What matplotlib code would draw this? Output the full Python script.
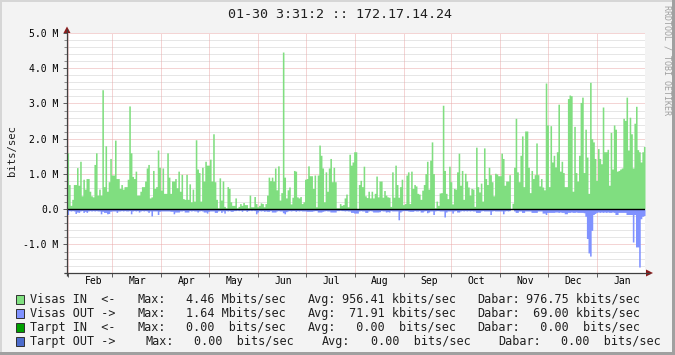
import numpy as np
import matplotlib
matplotlib.use('Agg')
import matplotlib.pyplot as plt
import matplotlib.dates as mdates
from matplotlib.patches import Rectangle, Polygon
from datetime import datetime, timedelta

# daily traffic, Mbit/s (one value per day, Feb .. Jan)
visas_in = [
    1.6, 0.7, 0.11, 0.28, 0.7, 0.7, 1.18, 0.68, 1.36, 0.38, 0.85, 0.57, 0.87, 0.87, 0.51, 0.38,
    0.35, 1.27, 1.6, 0.4, 0.57, 0.4, 3.39, 0.64, 1.8, 0.51, 0.78, 1.44, 0.97, 0.97, 1.96,
    0.87, 0.87, 0.59, 0.7, 0.57, 0.64, 0.64, 0.85, 2.93, 1.6, 0.93, 0.87, 1.08, 0.4, 0.4, 0.51,
    0.64, 0.64, 0.8, 1.17, 1.27, 0.32, 0.35, 1.1, 0.59, 0.64, 1.68, 1.19, 0.54,
    1.17, 0.45, 0.45, 1.6, 0.91, 0.45, 0.8, 0.8, 0.87, 0.61, 1.08, 0.51, 0.99, 0.3, 0.28, 0.99,
    0.28, 0.72, 0.21, 0.57, 0.23, 1.97, 1.14, 1.04, 0.23, 1.19, 0.8, 1.36, 1.25, 1.25, 1.42, 0.8,
    2.14, 0.78, 0.28, 0.04, 0.89, 0.26, 0.8, 0.08, 0.04, 0.64, 0.59, 0.21, 0.11, 0.11, 0.32, 0.04,
    0.08, 0.16, 0.11, 0.19, 0.13, 0.13, 0.04, 0.4, 0.07, 0.07, 0.36, 0.16, 0.07,
    0.11, 0.18, 0.16, 0.07, 0.16, 0.4, 0.91, 0.81, 0.91, 0.8, 1.17, 0.55, 1.23, 0.26, 0.47, 4.46,
    0.91, 0.32, 0.55, 0.63, 0.15, 0.34, 1.1, 1.08, 0.35, 0.32, 0.36, 0.16, 0.21, 0.85, 0.87, 1.23,
    0.95, 0.95, 0.59, 0.97, 0.07, 0.97, 1.82, 1.53, 1.17, 0.21, 1.06, 0.51, 1.17, 1.44, 0.78, 1.19,
    0.78, 0.04, 0.04, 0.16, 0.11, 0.13, 0.32, 0.43, 0.07, 1.56, 1.25, 1.34,
    1.63, 1.63, 0.02, 0.7, 0.82, 0.64, 1.22, 0.38, 0.33, 0.51, 0.32, 0.51, 0.32, 0.45, 0.94, 0.35,
    0.8, 0.8, 0.34, 0.53, 0.4, 0.35, 0.34, 0.08, 1.06, 0.34, 1.25, 0.7, 0.34, 0.64, 0.85, 0.13,
    0.16, 0.97, 1.06, 0.16, 1.08, 0.59, 0.7, 0.66, 0.45, 0.43, 0.28, 0.54, 0.7, 1.01, 1.36, 0.57,
    1.39, 1.91, 1.01, 0.04, 0.23, 0.11, 0.46, 0.47, 2.95, 1.1, 0.45, 0.3, 1.22,
    0.78, 0.15, 0.59, 0.57, 1.06, 1.59, 0.68, 1.1, 0.28, 1.02, 0.8, 0.63, 0.4, 0.59, 0.57, 0.08,
    1.76, 0.64, 0.49, 0.74, 0.23, 1.74, 0.87, 0.7, 1.19, 0.98, 0.78, 0.38, 1.02, 1.0, 0.95, 0.95,
    1.59, 1.44, 0.68, 0.8, 0.8, 0.98, 0.0, 0.17, 1.19, 2.58, 1.06, 0.78, 1.53, 2.08, 0.64, 2.22,
    2.22, 1.19, 0.47, 1.1, 0.87, 0.98, 1.88, 0.98, 0.66, 0.87, 0.63, 0.55,
    3.58, 2.39, 0.64, 2.37, 1.34, 1.53, 1.2, 1.63, 2.98, 1.08, 1.36, 1.04, 0.64, 0.64, 3.14, 3.24,
    3.22, 0.51, 2.35, 1.04, 0.8, 1.53, 3.03, 3.18, 1.04, 2.27, 1.48, 0.45, 3.6, 2.0, 1.91, 1.44,
    0.82, 1.72, 1.44, 1.29, 2.9, 1.63, 1.63, 1.7, 0.68, 2.18, 1.14, 2.39, 2.27, 1.08, 1.1, 1.14,
    1.17, 2.58, 2.52, 3.18, 1.68, 2.61, 2.14, 1.17, 2.44, 2.92, 1.69, 1.63, 1.34, 1.63, 1.78,
]
visas_out = [
    0.15, 0.04, 0.05, 0.04, 0.05, 0.12, 0.08, 0.09, 0.05, 0.04, 0.09, 0.06, 0.09, 0.05, 0.04,
    0.05, 0.04, 0.05, 0.04, 0.05, 0.05, 0.13, 0.06, 0.09, 0.09, 0.13, 0.12, 0.06, 0.05, 0.05, 0.05,
    0.09, 0.05, 0.05, 0.04, 0.05, 0.04, 0.05, 0.05, 0.04, 0.13, 0.05, 0.04, 0.05, 0.04, 0.08, 0.05,
    0.04, 0.05, 0.04, 0.05, 0.09, 0.05, 0.19, 0.05, 0.05, 0.05, 0.15, 0.06, 0.05,
    0.05, 0.05, 0.05, 0.05, 0.05, 0.06, 0.06, 0.13, 0.08, 0.08, 0.08, 0.05, 0.05, 0.04, 0.08, 0.08,
    0.08, 0.04, 0.05, 0.04, 0.05, 0.05, 0.08, 0.05, 0.04, 0.05, 0.08, 0.08, 0.11, 0.06, 0.05, 0.05,
    0.05, 0.09, 0.09, 0.05, 0.04, 0.09, 0.05, 0.11, 0.04, 0.05, 0.04, 0.06, 0.06, 0.04, 0.04, 0.03,
    0.04, 0.03, 0.06, 0.03, 0.03, 0.06, 0.04, 0.03, 0.04, 0.03, 0.04, 0.13, 0.08,
    0.04, 0.05, 0.04, 0.06, 0.05, 0.06, 0.06, 0.04, 0.08, 0.08, 0.08, 0.05, 0.04, 0.05, 0.05, 0.10,
    0.13, 0.07, 0.05, 0.04, 0.05, 0.04, 0.04, 0.06, 0.04, 0.05, 0.04, 0.05, 0.05, 0.05, 0.06, 0.06,
    0.06, 0.06, 0.05, 0.04, 0.04, 0.08, 0.08, 0.08, 0.06, 0.05, 0.04, 0.05, 0.05, 0.08, 0.08, 0.08,
    0.08, 0.04, 0.04, 0.03, 0.04, 0.04, 0.05, 0.04, 0.05, 0.05, 0.09, 0.09,
    0.11, 0.11, 0.11, 0.05, 0.04, 0.05, 0.05, 0.09, 0.09, 0.05, 0.04, 0.05, 0.08, 0.08, 0.08, 0.08,
    0.07, 0.04, 0.05, 0.05, 0.08, 0.07, 0.08, 0.04, 0.05, 0.05, 0.05, 0.05, 0.30, 0.08, 0.05, 0.04,
    0.04, 0.04, 0.05, 0.06, 0.06, 0.06, 0.04, 0.05, 0.05, 0.04, 0.08, 0.08, 0.05, 0.04, 0.10, 0.08,
    0.05, 0.05, 0.15, 0.05, 0.04, 0.04, 0.05, 0.05, 0.05, 0.22, 0.08, 0.05, 0.05,
    0.05, 0.11, 0.05, 0.04, 0.08, 0.08, 0.05, 0.04, 0.05, 0.04, 0.05, 0.04, 0.05, 0.04, 0.05, 0.05,
    0.09, 0.09, 0.09, 0.05, 0.04, 0.05, 0.05, 0.05, 0.05, 0.15, 0.05, 0.04, 0.05, 0.05, 0.05, 0.05,
    0.05, 0.13, 0.05, 0.04, 0.05, 0.04, 0.0, 0.0, 0.05, 0.09, 0.09, 0.05, 0.05, 0.09, 0.09, 0.05,
    0.05, 0.05, 0.05, 0.09, 0.09, 0.09, 0.09, 0.05, 0.05, 0.05, 0.11, 0.11,
    0.15, 0.09, 0.09, 0.09, 0.09, 0.09, 0.08, 0.08, 0.09, 0.08, 0.09, 0.09, 0.13, 0.13, 0.09, 0.09,
    0.08, 0.09, 0.09, 0.08, 0.09, 0.09, 0.09, 0.09, 0.10, 0.20, 0.83, 1.24, 1.33, 0.60, 0.15, 0.12,
    0.09, 0.08, 0.09, 0.08, 0.09, 0.08, 0.09, 0.08, 0.09, 0.09, 0.08, 0.09, 0.15, 0.15,
    0.09, 0.09, 0.09, 0.09, 0.09, 0.15, 0.15, 0.15, 0.15, 0.93, 0.15, 1.07, 1.07, 1.64, 0.27, 0.20,
    0.18,
]
month_labels = ['Feb', 'Mar', 'Apr', 'May', 'Jun', 'Jul', 'Aug', 'Sep', 'Oct', 'Nov', 'Dec', 'Jan']
y_ticks = [-1, 0, 1, 2, 3, 4, 5]
y_labels = ['-1.0 M', '0.0', '1.0 M', '2.0 M', '3.0 M', '4.0 M', '5.0 M']

legend_rows = [
    ('Visas IN  <-', '#80e080', [('Max:', 138), ('4.46 Mbits/sec', 186), ('Avg:', 308),
                                ('956.41 kbits/sec', 342), ('Dabar:', 477), ('976.75 kbits/sec', 526)]),
    ('Visas OUT ->', '#8092ff', [('Max:', 138), ('1.64 Mbits/sec', 186), ('Avg:', 308),
                                (' 71.91 kbits/sec', 342), ('Dabar:', 477), (' 69.00 kbits/sec', 526)]),
    ('Tarpt IN  <-', '#00a000', [('Max:', 138), ('0.00  bits/sec', 186), ('Avg:', 308),
                                ('  0.00  bits/sec', 342), ('Dabar:', 477), ('  0.00  bits/sec', 526)]),
    ('Tarpt OUT ->', '#4c6ccc', [('Max:', 145), ('0.00  bits/sec', 194), ('Avg:', 322),
                                ('0.00  bits/sec', 371), ('Dabar:', 498), ('0.00  bits/sec', 561)]),
]

MONO = 'DejaVu Sans Mono'
W, H = 675, 355
L, R, T, B = 67, 645, 33, 273
plt.rcParams['lines.scale_dashes'] = False

fig = plt.figure(figsize=(W / 100, H / 100), dpi=100, facecolor='#f3f3f3')
ax = fig.add_axes([L / W, 1 - B / H, (R - L) / W, (B - T) / H])
ax.set_facecolor('white')

start = datetime(2013, 1, 31, 9, 0)
t0 = mdates.date2num(start)
span = 365.0


def day_edges(vals):
    return t0 + np.arange(len(vals) + 1)


vin = np.array(visas_in)
vout = np.array(visas_out)
ax.fill_between(day_edges(vin), np.append(vin, vin[-1]), step='post',
                color='#80de80', lw=0, zorder=2)
ax.fill_between(day_edges(vout), -np.append(vout, vout[-1]), step='post',
                color='#8092ff', lw=0, zorder=2)
ax.axhline(0, color='black', lw=1.0, zorder=5)

ax.set_xlim(t0, t0 + span)
ax.set_ylim(-1.81, 5.0)

# dotted grid like rrdtool: 1px on, 1px off
grid_kw = dict(lw=0.72, dashes=(0.72, 0.72), zorder=1)
for v in np.arange(-1.8, 5.01, 0.2):
    if abs(v - round(v)) < 1e-6:
        continue
    ax.axhline(v, color='#cfcfcf', **grid_kw)
for v in y_ticks:
    ax.axhline(v, color='#eaaaaa', **grid_kw)
month_starts = [datetime(2013, m, 1) for m in range(2, 13)] + [datetime(2014, 1, 1)]
for d in month_starts:
    ax.axvline(mdates.date2num(d), color='#eaaaaa', **grid_kw)

for s in ax.spines.values():
    s.set_visible(False)

ax.set_yticks(y_ticks)
ax.set_yticklabels(y_labels, fontfamily=MONO, fontsize=7)
ax.set_yticks(np.arange(-1.8, 5.01, 0.2), minor=True)
ax.tick_params(axis='y', which='major', length=3, width=0.72, color='#606060', pad=3)
ax.tick_params(axis='y', which='minor', length=2, width=0.72, color='#909090')

ax.set_xticks([mdates.date2num(d) for d in month_starts])
ax.set_xticklabels([])
ax.set_xticks([mdates.date2num(d + timedelta(days=16)) for d in month_starts], minor=True)
ax.set_xticklabels(month_labels, minor=True, fontfamily=MONO, fontsize=7)
ax.tick_params(axis='x', which='major', length=3, width=0.72, color='#606060')
ax.tick_params(axis='x', which='minor', length=0, pad=2.5)

# overlay in pixel coordinates for frame, axes arrows, texts and legend
ov = fig.add_axes([0, 0, 1, 1], zorder=10)
ov.set_xlim(0, W)
ov.set_ylim(H, 0)
ov.axis('off')
ov.patch.set_alpha(0)

ov.add_patch(Rectangle((0, 0), W, 2, color='#d6d6d6', lw=0))
ov.add_patch(Rectangle((0, 0), 2, H, color='#d6d6d6', lw=0))
ov.add_patch(Rectangle((W - 3, 0), 3, H, color='#a0a0a0', lw=0))
ov.add_patch(Rectangle((0, H - 3), W, 3, color='#a0a0a0', lw=0))

ov.plot([L, L], [B + 3, T - 4], color='#404040', lw=0.9, solid_capstyle='butt')
ov.plot([L - 3, R + 5], [B, B], color='#404040', lw=0.9, solid_capstyle='butt')
ov.add_patch(Polygon([(L - 3.5, T), (L + 3.5, T), (L, T - 6.5)], closed=True,
                     color='#8c1c1c', lw=0))
ov.add_patch(Polygon([(R + 1, B - 3.5), (R + 1, B + 3.5), (R + 8, B)], closed=True,
                     color='#8c1c1c', lw=0))

ov.text(340, 14, '01-30 3:31:2 :: 172.17.14.24', fontfamily=MONO, fontsize=9.6,
        ha='center', va='center', color='#202020')
ov.text(12, (T + B) / 2 - 2, 'bits/sec', fontfamily=MONO, fontsize=7.6,
        rotation=90, ha='center', va='center', color='#202020')
ov.text(667, 5, 'RRDTOOL / TOBI OETIKER', fontfamily=MONO, fontsize=6,
        rotation=270, ha='center', va='top', color='#a0a0a0')

row_y = [299.5, 313.5, 327.5, 341.5]
for (name, col, parts), y in zip(legend_rows, row_y):
    ov.add_patch(Rectangle((15.5, y - 4.5), 8.5, 9, facecolor=col,
                           edgecolor='#303030', lw=0.7))
    ov.text(30, y, name, fontfamily=MONO, fontsize=8.5, ha='left', va='center',
            color='#202020')
    for txt, x in parts:
        ov.text(x, y, txt, fontfamily=MONO, fontsize=8.5, ha='left', va='center',
                color='#202020')

fig.savefig('out.png', dpi=100, facecolor=fig.get_facecolor())
